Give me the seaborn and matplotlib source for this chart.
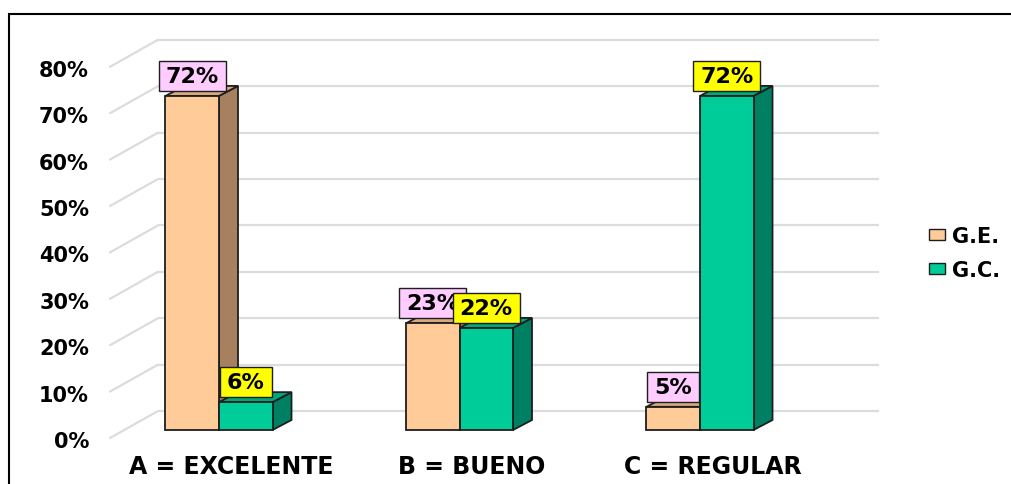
import numpy as np
import pandas as pd
import matplotlib
matplotlib.use("Agg")
import matplotlib.pyplot as plt
import matplotlib.transforms as mtransforms
from matplotlib.patches import Polygon, Rectangle, Patch
from matplotlib.path import Path
import seaborn as sns

# ---------------- data ----------------
categories = ["A = EXCELENTE", "B = BUENO", "C = REGULAR"]
groups = ["G.E.", "G.C."]
ge_values = [0.72, 0.23, 0.05]
gc_values = [0.06, 0.22, 0.72]
ge_labels = ["72%", "23%", "5%"]
gc_labels = ["6%", "22%", "72%"]
y_ticks = [0.0, 0.1, 0.2, 0.3, 0.4, 0.5, 0.6, 0.7, 0.8]
y_tick_labels = ["0%", "10%", "20%", "30%", "40%", "50%", "60%", "70%", "80%"]

# ---------------- style ----------------
front_colors = {"G.E.": "#FFCC99", "G.C.": "#00CC99"}
side_colors = {"G.E.": "#A6805F", "G.C.": "#008062"}
top_colors = {"G.E.": "#D6A97E", "G.C.": "#00A67C"}
label_bg = {"G.E.": "#FFCCFF", "G.C.": "#FFFF00"}
EDGE = "#1E1E1E"

sns.set_theme(style="white")
plt.rcParams["font.family"] = ["DejaVu Sans"]
plt.rcParams["font.weight"] = "bold"
plt.rcParams["text.color"] = "black"

W, H, DPI = 1011, 485, 100
fig = plt.figure(figsize=(W / DPI, H / DPI), dpi=DPI)
fig.patch.set_facecolor("white")

# pixel geometry of the plotting area
AX_L, AX_R, AX_T, AX_B = 100, 900, 10, 480
X0_PX, X_UNIT = 219.0, 240.5       # category 0 centre, px per category
Y0_PX, Y_UNIT = 431.0, 464.0       # value 0 baseline, px per 100 %
DEPTH_DX, DEPTH_DY = 19.0, 10.0    # bar depth (px)
GRID_BACK_DY = 19.0                # back wall offset (px)
GRID_SLANT_DX, GRID_SLANT_DY = 48.0, 27.0
GRID_X0, GRID_X1 = 158.0, 879.0

ax = fig.add_axes([AX_L / W, 1 - AX_B / H, (AX_R - AX_L) / W, (AX_B - AX_T) / H])

df = pd.DataFrame({
    "cat": categories * 2,
    "grp": [groups[0]] * 3 + [groups[1]] * 3,
    "val": ge_values + gc_values,
})

sns.barplot(data=df, x="cat", y="val", hue="grp", hue_order=groups, order=categories,
            palette=front_colors, width=0.445, gap=0, edgecolor=EDGE, linewidth=1.3,
            saturation=1, legend=False, ax=ax, errorbar=None)

ax.set_xlim((AX_L - X0_PX) / X_UNIT, (AX_R - X0_PX) / X_UNIT)
ax.set_ylim(-(AX_B - Y0_PX) / Y_UNIT, (Y0_PX - AX_T) / Y_UNIT)
ax.set_axis_off()

ddx = DEPTH_DX / X_UNIT
ddy = DEPTH_DY / Y_UNIT

# back-wall gridlines with slanted side part
gdy = GRID_BACK_DY / Y_UNIT
for v in y_ticks:
    yb = v + gdy
    ax.plot([(GRID_X0 - X0_PX) / X_UNIT, (GRID_X1 - X0_PX) / X_UNIT], [yb, yb],
            color="#DCDCDC", lw=1.6, zorder=0.5, solid_capstyle="butt")
    ax.plot([(GRID_X0 - GRID_SLANT_DX - X0_PX) / X_UNIT, (GRID_X0 - X0_PX) / X_UNIT],
            [yb - GRID_SLANT_DY / Y_UNIT, yb], color="#DCDCDC", lw=1.6, zorder=0.5)

# y tick labels at the front end of the slanted lines
ytrans = mtransforms.offset_copy(ax.get_yaxis_transform(), fig=fig, x=0, y=-11, units="dots")
for v, lab in zip(y_ticks, y_tick_labels):
    ax.text((89 - AX_L) / (AX_R - AX_L), v, lab, transform=ytrans, ha="right", va="center",
            fontsize=15, fontweight="bold", color="black")


def label_box(x0, y0, width, height, mutation_size):
    """Rectangular label frame with separate horizontal / vertical padding."""
    px, py = 0.31 * mutation_size, 0.22 * mutation_size
    return Path([(x0 - px, y0 - py), (x0 + width + px, y0 - py),
                 (x0 + width + px, y0 + height + py), (x0 - px, y0 + height + py),
                 (x0 - px, y0 - py)], closed=True)


# 3D faces + value labels
labels_by_group = {groups[0]: ge_labels, groups[1]: gc_labels}
lab_trans = mtransforms.offset_copy(ax.transData, fig=fig, x=0, y=20, units="dots")
for gi, (cont, g) in enumerate(zip(ax.containers, groups)):
    base_z = 2 + gi * 2
    for bar, txt in zip(cont, labels_by_group[g]):
        bar.set_zorder(base_z + 1)
        x0, w, h = bar.get_x(), bar.get_width(), bar.get_height()
        side = Polygon([(x0 + w, 0), (x0 + w, h), (x0 + w + ddx, h + ddy), (x0 + w + ddx, ddy)],
                       closed=True, fc=side_colors[g], ec=EDGE, lw=1.3, zorder=base_z + 0.5,
                       joinstyle="miter")
        top = Polygon([(x0, h), (x0 + w, h), (x0 + w + ddx, h + ddy), (x0 + ddx, h + ddy)],
                      closed=True, fc=top_colors[g], ec=EDGE, lw=1.3, zorder=base_z + 0.5,
                      joinstyle="miter")
        ax.add_patch(side)
        ax.add_patch(top)
        ax.text(x0 + w / 2, h, txt, transform=lab_trans, ha="center",
                va="center", fontsize=16, fontweight="bold", color="black", zorder=20,
                bbox=dict(boxstyle=label_box, fc=label_bg[g], ec=EDGE, lw=1.0))

# category labels
ctrans = mtransforms.offset_copy(ax.transData, fig=fig, x=12.5, y=-36, units="dots")
for i, c in enumerate(categories):
    ax.text(i, 0, c, transform=ctrans, ha="center", va="center", fontsize=17,
            fontweight="bold", color="black")

# legend
handles = [Patch(facecolor=front_colors[g], edgecolor=EDGE, linewidth=1.0) for g in groups]
leg = fig.legend(handles, groups, loc="center left", bbox_to_anchor=(929 / W, 1 - 254 / H),
                 frameon=False, prop={"size": 15, "weight": "bold"}, handlelength=0.77,
                 handleheight=0.48, handletextpad=0.34, labelspacing=0.68, borderpad=0,
                 borderaxespad=0)
for t in leg.get_texts():
    t.set_color("black")

# outer frame (runs off the right and bottom edges)
fig.add_artist(Rectangle((9 / W, -0.5), 2.0, (1 - 15 / H) + 0.5, transform=fig.transFigure,
                         fill=False, ec="black", lw=1.5, clip_on=False))

fig.savefig("out.png", dpi=DPI)
